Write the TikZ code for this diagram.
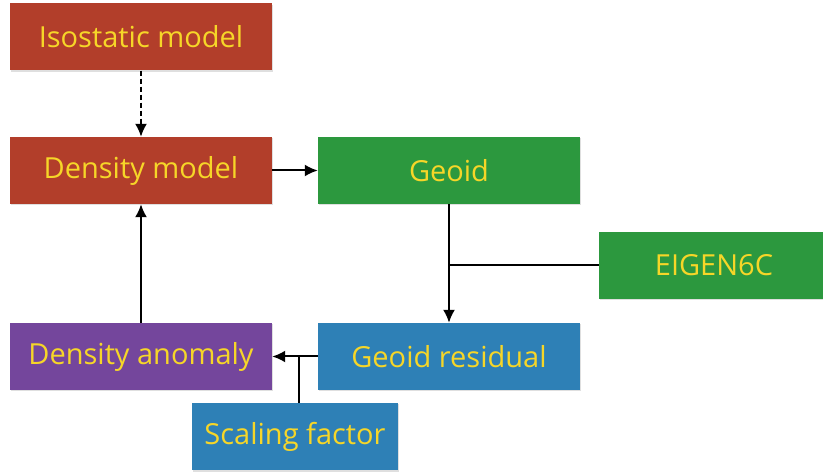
\documentclass[tikz,border=0pt]{standalone}
\usepackage{fontspec}
\setmainfont{Open Sans}
\usepackage{xcolor}
\usetikzlibrary{arrows.meta,positioning,calc,shadows}

\definecolor{boxred}{RGB}{178,62,42}
\definecolor{boxgreen}{RGB}{44,152,62}
\definecolor{boxblue}{RGB}{46,128,182}
\definecolor{boxpurple}{RGB}{116,70,156}
\definecolor{boxtext}{RGB}{246,214,40}

\tikzset{
	box/.style={minimum width=262pt,minimum height=67pt,inner sep=0pt,
		text=boxtext,font=\fontsize{29}{33}\selectfont,
		drop shadow={opacity=0.25,shadow xshift=1pt,shadow yshift=-1.5pt}},
	flow/.style={line width=2pt,-{Latex[length=13pt,width=12pt]}},
	link/.style={line width=2pt}
}

\begin{document}
\begin{tikzpicture}[x=1pt,y=-1pt]
		\useasboundingbox (0,0) rectangle (823,473);
		\node[box,fill=boxred] (iso) at (141,37) {Isostatic model};
		\node[box,fill=boxred] (dens) at (141,170.5) {Density model};
		\node[box,fill=boxgreen] (geoid) at (449,170.5) {Geoid};
		\node[box,fill=boxgreen,minimum width=230pt] (eigen) at (714,265.5) {EIGEN6C};
		\node[box,fill=boxpurple] (anom) at (141,356.5) {Density anomaly};
		\node[box,fill=boxblue] (resid) at (449,356.5) {Geoid residual};
		\node[box,fill=boxblue,minimum width=206pt] (scal) at (295,436.5) {Scaling factor};
		\coordinate (join) at (geoid.south |- eigen.west);
		\coordinate (tee) at (scal.north -| 299,0);
		\draw[flow,dash pattern=on 5pt off 3pt] (iso) -- (dens);
		\draw[flow] (dens) -- (geoid);
		\draw[flow] (geoid) -- (resid);
		\draw[link] (eigen.west) -- (join);
		\draw[flow] (resid) -- (anom);
		\draw[link] (tee) -- (tee |- resid.west);
		\draw[flow] (anom) -- (dens);
	\end{tikzpicture}
\end{document}
